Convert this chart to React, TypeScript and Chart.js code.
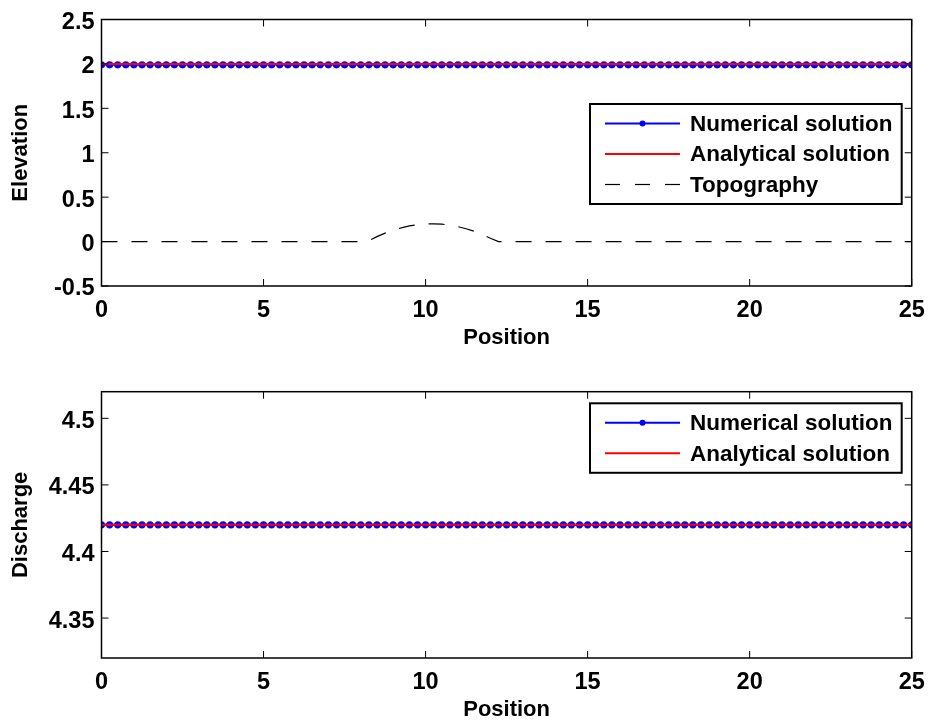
import React, { useEffect, useRef } from "react";
import { Chart, registerables } from "chart.js";

Chart.register(...registerables);

// ---------------- data ----------------
const positions = [
  0, 0.25, 0.5, 0.75, 1, 1.25, 1.5, 1.75, 2, 2.25, 2.5, 2.75,
  3, 3.25, 3.5, 3.75, 4, 4.25, 4.5, 4.75, 5, 5.25, 5.5, 5.75,
  6, 6.25, 6.5, 6.75, 7, 7.25, 7.5, 7.75, 8, 8.25, 8.5, 8.75,
  9, 9.25, 9.5, 9.75, 10, 10.25, 10.5, 10.75, 11, 11.25, 11.5, 11.75,
  12, 12.25, 12.5, 12.75, 13, 13.25, 13.5, 13.75, 14, 14.25, 14.5, 14.75,
  15, 15.25, 15.5, 15.75, 16, 16.25, 16.5, 16.75, 17, 17.25, 17.5, 17.75,
  18, 18.25, 18.5, 18.75, 19, 19.25, 19.5, 19.75, 20, 20.25, 20.5, 20.75,
  21, 21.25, 21.5, 21.75, 22, 22.25, 22.5, 22.75, 23, 23.25, 23.5, 23.75,
  24, 24.25, 24.5, 24.75, 25,
];

const numericalElevation = [
  1.99, 1.99, 1.99, 1.99, 1.99, 1.99, 1.99, 1.99, 1.99, 1.99,
  1.99, 1.99, 1.99, 1.99, 1.99, 1.99, 1.99, 1.99, 1.99, 1.99,
  1.99, 1.99, 1.99, 1.99, 1.99, 1.99, 1.99, 1.99, 1.99, 1.99,
  1.99, 1.99, 1.99, 1.99, 1.99, 1.99, 1.99, 1.99, 1.99, 1.99,
  1.99, 1.99, 1.99, 1.99, 1.99, 1.99, 1.99, 1.99, 1.99, 1.99,
  1.99, 1.99, 1.99, 1.99, 1.99, 1.99, 1.99, 1.99, 1.99, 1.99,
  1.99, 1.99, 1.99, 1.99, 1.99, 1.99, 1.99, 1.99, 1.99, 1.99,
  1.99, 1.99, 1.99, 1.99, 1.99, 1.99, 1.99, 1.99, 1.99, 1.99,
  1.99, 1.99, 1.99, 1.99, 1.99, 1.99, 1.99, 1.99, 1.99, 1.99,
  1.99, 1.99, 1.99, 1.99, 1.99, 1.99, 1.99, 1.99, 1.99, 1.99,
  1.99,
];

const analyticalElevation = [
  2, 2, 2, 2, 2, 2, 2, 2, 2, 2,
  2, 2, 2, 2, 2, 2, 2, 2, 2, 2,
  2, 2, 2, 2, 2, 2, 2, 2, 2, 2,
  2, 2, 2, 2, 2, 2, 2, 2, 2, 2,
  2, 2, 2, 2, 2, 2, 2, 2, 2, 2,
  2, 2, 2, 2, 2, 2, 2, 2, 2, 2,
  2, 2, 2, 2, 2, 2, 2, 2, 2, 2,
  2, 2, 2, 2, 2, 2, 2, 2, 2, 2,
  2, 2, 2, 2, 2, 2, 2, 2, 2, 2,
  2, 2, 2, 2, 2, 2, 2, 2, 2, 2,
  2,
];

const topography = [
  0, 0, 0, 0, 0, 0, 0, 0, 0, 0,
  0, 0, 0, 0, 0, 0, 0, 0, 0, 0,
  0, 0, 0, 0, 0, 0, 0, 0, 0, 0,
  0, 0, 0,
  0.01, 0.056, 0.095, 0.128, 0.155, 0.176, 0.19, 0.198,
  0.2, 0.196, 0.185, 0.168, 0.145, 0.116, 0.08, 0.038,
  0, 0, 0, 0, 0, 0, 0, 0, 0, 0,
  0, 0, 0, 0, 0, 0, 0, 0, 0, 0,
  0, 0, 0, 0, 0, 0, 0, 0, 0, 0,
  0, 0, 0, 0, 0, 0, 0, 0, 0, 0,
  0, 0, 0, 0, 0, 0, 0, 0, 0, 0,
  0, 0,
];

const numericalDischarge = [
  4.42, 4.42, 4.42, 4.42, 4.42, 4.42, 4.42, 4.42, 4.42, 4.42,
  4.42, 4.42, 4.42, 4.42, 4.42, 4.42, 4.42, 4.42, 4.42, 4.42,
  4.42, 4.42, 4.42, 4.42, 4.42, 4.42, 4.42, 4.42, 4.42, 4.42,
  4.42, 4.42, 4.42, 4.42, 4.42, 4.42, 4.42, 4.42, 4.42, 4.42,
  4.42, 4.42, 4.42, 4.42, 4.42, 4.42, 4.42, 4.42, 4.42, 4.42,
  4.42, 4.42, 4.42, 4.42, 4.42, 4.42, 4.42, 4.42, 4.42, 4.42,
  4.42, 4.42, 4.42, 4.42, 4.42, 4.42, 4.42, 4.42, 4.42, 4.42,
  4.42, 4.42, 4.42, 4.42, 4.42, 4.42, 4.42, 4.42, 4.42, 4.42,
  4.42, 4.42, 4.42, 4.42, 4.42, 4.42, 4.42, 4.42, 4.42, 4.42,
  4.42, 4.42, 4.42, 4.42, 4.42, 4.42, 4.42, 4.42, 4.42, 4.42,
  4.42,
];

const analyticalDischarge = [
  4.42, 4.42, 4.42, 4.42, 4.42, 4.42, 4.42, 4.42, 4.42, 4.42,
  4.42, 4.42, 4.42, 4.42, 4.42, 4.42, 4.42, 4.42, 4.42, 4.42,
  4.42, 4.42, 4.42, 4.42, 4.42, 4.42, 4.42, 4.42, 4.42, 4.42,
  4.42, 4.42, 4.42, 4.42, 4.42, 4.42, 4.42, 4.42, 4.42, 4.42,
  4.42, 4.42, 4.42, 4.42, 4.42, 4.42, 4.42, 4.42, 4.42, 4.42,
  4.42, 4.42, 4.42, 4.42, 4.42, 4.42, 4.42, 4.42, 4.42, 4.42,
  4.42, 4.42, 4.42, 4.42, 4.42, 4.42, 4.42, 4.42, 4.42, 4.42,
  4.42, 4.42, 4.42, 4.42, 4.42, 4.42, 4.42, 4.42, 4.42, 4.42,
  4.42, 4.42, 4.42, 4.42, 4.42, 4.42, 4.42, 4.42, 4.42, 4.42,
  4.42, 4.42, 4.42, 4.42, 4.42, 4.42, 4.42, 4.42, 4.42, 4.42,
  4.42,
];

const positionTicks = [0, 5, 10, 15, 20, 25];
const elevationTicks = [-0.5, 0, 0.5, 1, 1.5, 2, 2.5];
const dischargeTicks = [4.35, 4.4, 4.45, 4.5];
const seriesLabels = ["Numerical solution", "Analytical solution", "Topography"];
const xTitle = "Position";
const elevationTitle = "Elevation";
const dischargeTitle = "Discharge";

// ---------------- styling ----------------
const FAMILY = "'Liberation Sans', Arial, Helvetica, sans-serif";
const FONT = { family: FAMILY, size: 22, weight: "bold" as const, lineHeight: 1.2 };
const TICK_FONT = { family: FAMILY, size: 23.5, weight: "bold" as const, lineHeight: 1.2 };
const TICK_LEN = 7;

const toPoints = (ys: number[]) => positions.map((x, i) => ({ x, y: ys[i] }));

const framePlugin = {
  id: "frame",
  afterDraw(chart: any, _args: any, opts: any) {
    const { ctx, chartArea: a, scales } = chart;
    ctx.save();
    // inward ticks on all four sides
    ctx.strokeStyle = "#000";
    ctx.lineWidth = 1;
    ctx.beginPath();
    for (const t of scales.x.ticks) {
      const px = scales.x.getPixelForValue(t.value);
      ctx.moveTo(px, a.bottom);
      ctx.lineTo(px, a.bottom - TICK_LEN);
      ctx.moveTo(px, a.top);
      ctx.lineTo(px, a.top + TICK_LEN);
    }
    for (const t of scales.y.ticks) {
      const py = scales.y.getPixelForValue(t.value);
      ctx.moveTo(a.left, py);
      ctx.lineTo(a.left + TICK_LEN, py);
      ctx.moveTo(a.right, py);
      ctx.lineTo(a.right - TICK_LEN, py);
    }
    ctx.stroke();
    ctx.lineWidth = 1.5;
    ctx.strokeRect(a.left, a.top, a.right - a.left, a.bottom - a.top);

    // legend
    const items = chart.data.datasets;
    const rowH = 30.5;
    const boxW = 311.7;
    const boxH = 19.5 + (items.length - 1) * rowH + 19.5;
    const bx = a.right - 10 - boxW;
    const by = a.top + opts.top;
    ctx.fillStyle = "#fff";
    ctx.fillRect(bx, by, boxW, boxH);
    ctx.lineWidth = 2;
    ctx.strokeStyle = "#000";
    ctx.strokeRect(bx, by, boxW, boxH);
    items.forEach((ds: any, i: number) => {
      const y = by + 19.5 + i * rowH;
      ctx.beginPath();
      ctx.setLineDash(ds.borderDash ? [15, 15] : []);
      ctx.strokeStyle = ds.borderColor;
      ctx.lineWidth = ds.borderWidth;
      ctx.moveTo(bx + 15, y);
      ctx.lineTo(bx + 90, y);
      ctx.stroke();
      ctx.setLineDash([]);
      if (ds.pointRadius > 0) {
        ctx.fillStyle = ds.backgroundColor;
        ctx.beginPath();
        ctx.arc(bx + 52.5, y, 3, 0, Math.PI * 2);
        ctx.fill();
      }
      ctx.fillStyle = "#000";
      ctx.font = `bold 22.5px ${FAMILY}`;
      ctx.textBaseline = "middle";
      ctx.textAlign = "left";
      ctx.fillText(ds.label, bx + 100, y + 1);
    });
    ctx.restore();
  },
};

function makeConfig(opts: {
  datasets: any[];
  yMin: number;
  yMax: number;
  yTicks: number[];
  yTitle: string;
  padTop: number;
  xHeight: number;
  xTitlePad: number;
  legendTop: number;
}): any {
  return {
    type: "line",
    data: { datasets: opts.datasets },
    options: {
      responsive: false,
      animation: false,
      events: [],
      layout: { padding: { top: opts.padTop, right: 17.3, left: 0, bottom: 0 } },
      plugins: {
        legend: { display: false },
        tooltip: { enabled: false },
        frame: { top: opts.legendTop },
      },
      scales: {
        x: {
          type: "linear",
          min: 0,
          max: 25,
          afterBuildTicks: (s: any) => {
            s.ticks = positionTicks.map((v) => ({ value: v }));
          },
          afterFit: (s: any) => {
            s.height = opts.xHeight;
            s.paddingLeft = 0;
            s.paddingRight = 0;
          },
          grid: { display: false, drawTicks: false },
          border: { display: false },
          ticks: {
            color: "#000",
            font: TICK_FONT,
            padding: 10.5,
            maxRotation: 0,
            autoSkip: false,
            callback: (v: number) => String(v),
          },
          title: {
            display: true,
            text: xTitle,
            color: "#000",
            font: FONT,
            padding: { top: 0, bottom: opts.xTitlePad },
          },
        },
        y: {
          type: "linear",
          min: opts.yMin,
          max: opts.yMax,
          afterBuildTicks: (s: any) => {
            s.ticks = opts.yTicks.map((v) => ({ value: v }));
          },
          afterFit: (s: any) => {
            s.width = 101.5;
            s.paddingTop = 0;
            s.paddingBottom = 0;
          },
          grid: { display: false, drawTicks: false },
          border: { display: false },
          ticks: {
            color: "#000",
            font: TICK_FONT,
            padding: 7,
            labelOffset: 3,
            autoSkip: false,
            callback: (v: number) => String(v),
          },
          title: {
            display: true,
            text: opts.yTitle,
            color: "#000",
            font: FONT,
            padding: { top: 8, bottom: 0 },
          },
        },
      },
    },
    plugins: [framePlugin],
  };
}

const numericalStyle = {
  borderColor: "#0000ff",
  backgroundColor: "#0000ff",
  borderWidth: 2,
  pointRadius: 3.6,
  pointBorderWidth: 0,
  pointStyle: "circle",
  order: 3,
};
const analyticalStyle = {
  borderColor: "#ff0000",
  backgroundColor: "#ff0000",
  borderWidth: 2,
  pointRadius: 0,
  order: 2,
};
const topoStyle = {
  borderColor: "#000000",
  backgroundColor: "#000000",
  borderWidth: 1.2,
  borderDash: [16, 14],
  pointRadius: 0,
  order: 1,
};

function Panel({ config, top, height }: { config: any; top: number; height: number }) {
  const ref = useRef<HTMLCanvasElement>(null);
  useEffect(() => {
    const chart = new Chart(ref.current as HTMLCanvasElement, config);
    return () => chart.destroy();
  }, []);
  return (
    <canvas
      ref={ref}
      width={929}
      height={height}
      style={{ position: "absolute", left: 0, top, width: 929, height }}
    />
  );
}

export default function App() {
  const elevationConfig = makeConfig({
    datasets: [
      { label: seriesLabels[0], data: toPoints(numericalElevation), ...numericalStyle },
      { label: seriesLabels[1], data: toPoints(analyticalElevation), ...analyticalStyle },
      { label: seriesLabels[2], data: toPoints(topography), ...topoStyle },
    ],
    yMin: -0.5,
    yMax: 2.5,
    yTicks: elevationTicks,
    yTitle: elevationTitle,
    padTop: 19.5,
    xHeight: 76,
    xTitlePad: 11,
    legendTop: 84.5,
  });
  const dischargeConfig = makeConfig({
    datasets: [
      { label: seriesLabels[0], data: toPoints(numericalDischarge), ...numericalStyle },
      { label: seriesLabels[1], data: toPoints(analyticalDischarge), ...analyticalStyle },
    ],
    yMin: 4.32,
    yMax: 4.52,
    yTicks: dischargeTicks,
    yTitle: dischargeTitle,
    padTop: 29.7,
    xHeight: 67,
    xTitlePad: 2.3,
    legendTop: 11.6,
  });
  return (
    <div
      style={{
        position: "absolute",
        left: 0,
        top: 0,
        width: 929,
        height: 725,
        background: "#fff",
        overflow: "hidden",
      }}
    >
      <Panel config={elevationConfig} top={0} height={362} />
      <Panel config={dischargeConfig} top={362} height={363} />
    </div>
  );
}
